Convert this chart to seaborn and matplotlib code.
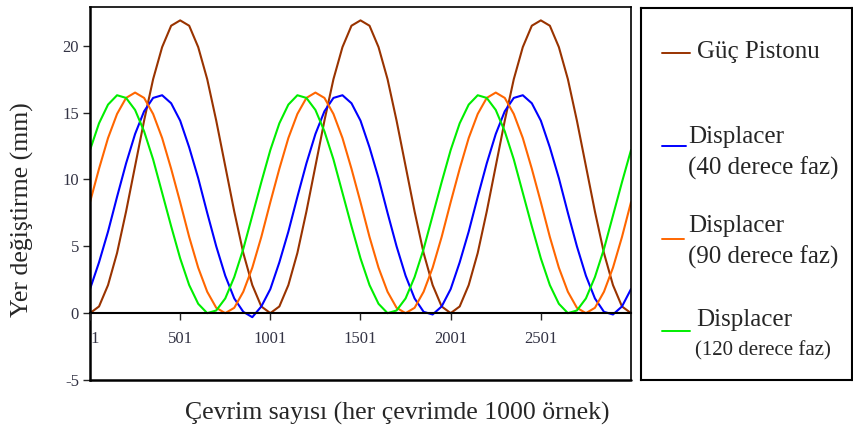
import pandas as pd
import matplotlib
matplotlib.use('Agg')
import matplotlib.pyplot as plt
import seaborn as sns

# sample index (every 50 samples)
cycles = list(range(1, 3002, 50))

guc_pistonu = [0.0, 0.5, 2.1, 4.5, 7.6, 11.0, 14.4, 17.5, 19.9, 21.5, 21.9, 21.5, 19.9, 17.5, 14.4, 11.0, 7.6, 4.5, 2.1, 0.5,
               0.0, 0.5, 2.1, 4.5, 7.6, 11.0, 14.4, 17.5, 19.9, 21.5, 21.9, 21.5, 19.9, 17.5, 14.4, 11.0, 7.6, 4.5, 2.1, 0.5,
               0.0, 0.5, 2.1, 4.5, 7.6, 11.0, 14.4, 17.5, 19.9, 21.5, 21.9, 21.5, 19.9, 17.5, 14.4, 11.0, 7.6, 4.5, 2.1, 0.5,
               0.0]
disp_40 = [1.8, 3.8, 6.1, 8.7, 11.2, 13.4, 15.1, 16.1, 16.3, 15.7, 14.4, 12.4, 10.1, 7.5, 5.0, 2.8, 1.1, 0.1, -0.3, 0.5,
           1.8, 3.8, 6.1, 8.7, 11.2, 13.4, 15.1, 16.1, 16.3, 15.7, 14.4, 12.4, 10.1, 7.5, 5.0, 2.8, 1.1, 0.1, -0.1, 0.5,
           1.8, 3.8, 6.1, 8.7, 11.2, 13.4, 15.1, 16.1, 16.3, 15.7, 14.4, 12.4, 10.1, 7.5, 5.0, 2.8, 1.1, 0.1, -0.1, 0.5,
           1.8]
disp_90 = [8.3, 10.8, 13.1, 14.9, 16.1, 16.5, 16.1, 14.9, 13.1, 10.8, 8.3, 5.7, 3.4, 1.6, 0.4, 0.0, 0.4, 1.6, 3.4, 5.7,
           8.3, 10.8, 13.1, 14.9, 16.1, 16.5, 16.1, 14.9, 13.1, 10.8, 8.3, 5.7, 3.4, 1.6, 0.4, 0.0, 0.4, 1.6, 3.4, 5.7,
           8.3, 10.8, 13.1, 14.9, 16.1, 16.5, 16.1, 14.9, 13.1, 10.8, 8.3, 5.7, 3.4, 1.6, 0.4, 0.0, 0.4, 1.6, 3.4, 5.7,
           8.3]
disp_120 = [12.2, 14.2, 15.6, 16.3, 16.1, 15.2, 13.6, 11.5, 9.0, 6.5, 4.1, 2.1, 0.7, 0.0, 0.2, 1.1, 2.7, 4.8, 7.3, 9.8,
            12.2, 14.2, 15.6, 16.3, 16.1, 15.2, 13.6, 11.5, 9.0, 6.5, 4.1, 2.1, 0.7, 0.0, 0.2, 1.1, 2.7, 4.8, 7.3, 9.8,
            12.2, 14.2, 15.6, 16.3, 16.1, 15.2, 13.6, 11.5, 9.0, 6.5, 4.1, 2.1, 0.7, 0.0, 0.2, 1.1, 2.7, 4.8, 7.3, 9.8,
            12.2]

series_names = ['Güç Pistonu', 'Displacer 40', 'Displacer 90', 'Displacer 120']
colors = ['#993300', '#0000ff', '#ff6600', '#00ee00']
x_ticks = [1, 501, 1001, 1501, 2001, 2501]
y_ticks = [-5, 0, 5, 10, 15, 20]

df = pd.DataFrame({'cycle': cycles * 4,
                   'value': guc_pistonu + disp_40 + disp_90 + disp_120,
                   'series': sum([[s] * len(cycles) for s in series_names], [])})

sns.set_style('white')
plt.rcParams['font.family'] = ['Liberation Serif', 'DejaVu Serif']
plt.rcParams['axes.unicode_minus'] = False

fig = plt.figure(figsize=(8.54, 4.36), dpi=100)
ax = fig.add_axes([90/854, 1-380/436, 541/854, 373/436])

sns.lineplot(data=df, x='cycle', y='value', hue='series', palette=colors,
             hue_order=series_names, linewidth=1.5, legend=False, ax=ax)

ax.set_xlim(1, 3001)
ax.set_ylim(-5, 22.9)
ax.set_xticks(x_ticks)
ax.set_yticks(y_ticks)
ax.set_xlabel('')
ax.set_ylabel('')
ax.spines['bottom'].set_position(('data', 0))
for s in ax.spines.values():
    s.set_color('black')
    s.set_linewidth(1.2)
ax.spines['left'].set_linewidth(1.8)
ax.spines['bottom'].set_linewidth(1.5)
ax.plot([0, 1], [0, 0], transform=ax.transAxes, color='black', lw=1.8, clip_on=False)
ax.tick_params(axis='x', direction='out', length=5, width=1, pad=8, labelsize=12, labelcolor='#333344')
ax.tick_params(axis='y', direction='out', length=5, width=1, pad=3, labelsize=12, labelcolor='#333344')
ax.tick_params(bottom=True, left=True)
# keep the "1" label visible on top of the left spine
ax.xaxis.set_zorder(3)
ax.get_xticklabels()[0].set_horizontalalignment('left')

fig.text(22/854, 1-210/436, 'Yer değiştirme (mm)', rotation=90, ha='center', va='center', fontsize=18.5)
fig.text(397/854, 1-413/436, 'Çevrim sayısı (her çevrimde 1000 örnek)', ha='center', va='center', fontsize=18.5)

# legend panel
lax = fig.add_axes([641/854, 1-380/436, 211/854, 372/436])
lax.set_xlim(641, 852)
lax.set_ylim(380, 8)
lax.set_xticks([])
lax.set_yticks([])
for s in lax.spines.values():
    s.set_color('black')
    s.set_linewidth(1.5)

lax.plot([662, 690], [53, 53], color=colors[0], lw=1.4)
lax.text(697, 52, 'Güç Pistonu', va='center', fontsize=18)
lax.plot([662, 686], [146, 146], color=colors[1], lw=1.4)
lax.text(688, 137, 'Displacer', va='center', fontsize=18)
lax.text(688, 168, '(40 derece faz)', va='center', fontsize=18)
lax.plot([662, 684], [239, 239], color=colors[2], lw=1.4)
lax.text(688, 226, 'Displacer', va='center', fontsize=18)
lax.text(688, 257, '(90 derece faz)', va='center', fontsize=18)
lax.plot([662, 690], [331, 331], color=colors[3], lw=1.4)
lax.text(696, 320, 'Displacer', va='center', fontsize=18)
lax.text(695, 351, '(120 derece faz)', va='center', fontsize=15)

fig.savefig('out.png', dpi=100)
